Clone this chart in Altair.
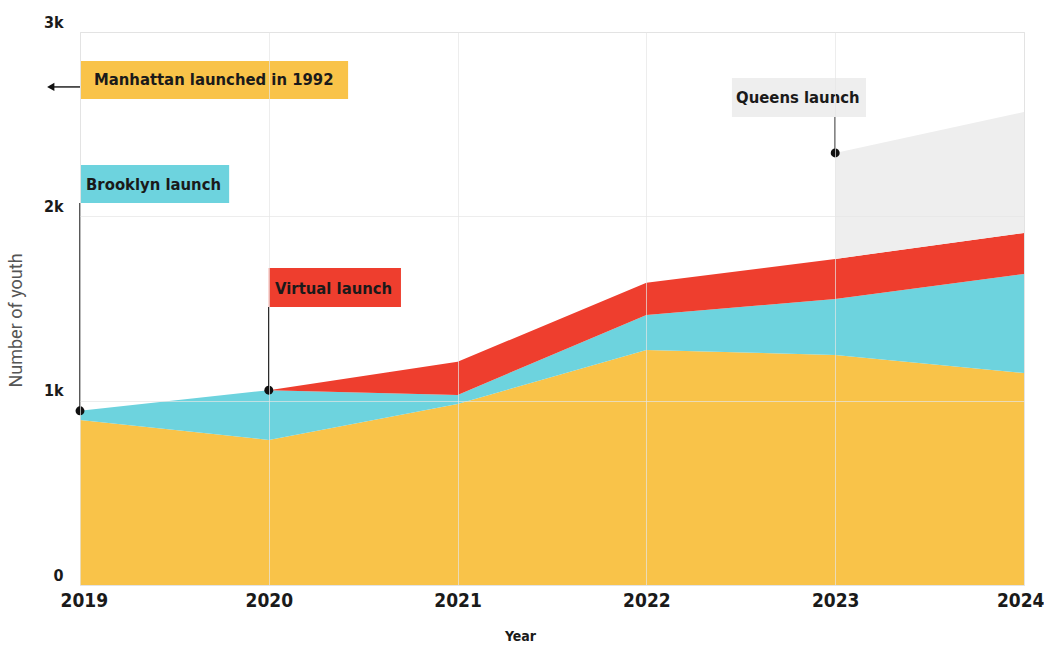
import altair as alt
import pandas as pd

years = [2019, 2020, 2021, 2022, 2023, 2024]
manhattan = [895, 787, 982, 1275, 1248, 1150]
brooklyn = [50, 270, 49, 190, 304, 537]
virtual = [None, 0, 180, 175, 217, 223]
queens = [None, None, None, None, 575, 656]

series_names = ["Manhattan", "Brooklyn", "Virtual", "Queens"]
series_values = [manhattan, brooklyn, virtual, queens]
series_colors = ["#F9C349", "#6DD3DE", "#EE3E2E", "#EEEEEE"]

y_ticks = [0, 1000, 2000, 3000]

rows = []
for order, (name, vals) in enumerate(zip(series_names, series_values)):
    for yr, v in zip(years, vals):
        if v is not None:
            rows.append({"year": yr, "series": name, "value": v, "ord": order})
df = pd.DataFrame(rows)

# annotation labels (text, series for colour)
ann_labels = ["Manhattan launched in 1992", "Brooklyn launch", "Virtual launch", "Queens launch"]
ann_series = ["Manhattan", "Brooklyn", "Virtual", "Queens"]
# box extents in data units
ann_x0 = [2019.005, 2019.005, 2020.0, 2022.453]
ann_x1 = [2020.42, 2019.79, 2020.70, 2023.163]
ann_y0 = [2637, 2073, 1508, 2539]
ann_y1 = [2843, 2279, 1720, 2751]
ann_tx = [2019.074, 2019.032, 2020.033, 2022.475]
ann_ty = [2740, 2170, 1606, 2642]
ann = pd.DataFrame({"label": ann_labels, "series": ann_series,
                    "x0": ann_x0, "x1": ann_x1, "y0": ann_y0, "y1": ann_y1,
                    "tx": ann_tx, "ty": ann_ty})

# launch markers: year where series starts, anchored at stacked top
def stack_top(series, yr):
    i = years.index(yr)
    k = series_names.index(series)
    return sum((series_values[j][i] or 0) for j in range(k + 1))

mk_series = ["Brooklyn", "Virtual", "Queens"]
mk_year = [2019, 2020, 2023]
mk_box = [2073, 1508, 2539]
markers = pd.DataFrame({"year": mk_year,
                        "top": [stack_top(s, y) for s, y in zip(mk_series, mk_year)],
                        "box": mk_box})

arrow = pd.DataFrame({"x0": [2018.85], "x1": [2019.0], "y": [2702]})
arrow_head = pd.DataFrame({"x": [2018.845], "y": [2702]})

FONT = "DejaVu Sans Condensed, sans-serif"

xscale = alt.Scale(domain=[2019, 2024], nice=False, zero=False)
yscale = alt.Scale(domain=[0, 3000], nice=False)
cscale = alt.Scale(domain=series_names, range=series_colors)

areas = alt.Chart(df).transform_stack(
    stack="value", groupby=["year"], as_=["y0", "y1"],
    sort=[alt.SortField("ord", order="ascending")]
).mark_area(interpolate="linear", stroke=None).encode(
    x=alt.X("year:Q", scale=xscale, title="Year",
            axis=alt.Axis(values=years, format="d", labelFlush=True, labelFlushOffset=20,
                          grid=True, ticks=False, tickSize=0, domain=False, labelPadding=6,
                          labelFont=FONT, labelFontSize=19, labelFontWeight="bold",
                          labelColor="#1a1a1a", titleFont=FONT, titleFontSize=14,
                          titleFontWeight="bold", titleColor="#1a1a1a",
                          titleX=440, titleY=51, titleBaseline="middle",
                          gridColor="#e6e6e6", gridOpacity=0.7, zindex=1)),
    y=alt.Y("y1:Q", scale=yscale, title="Number of youth",
            axis=alt.Axis(values=y_ticks, grid=True, ticks=False, tickSize=0,
                          domain=False, labelPadding=17, labelAlign="right",
                          labelBaseline="alphabetic", labelOffset=-5,
                          labelExpr="datum.value == 0 ? '0' : (datum.value / 1000) + 'k'",
                          labelFont=FONT, labelFontSize=16, labelFontWeight="bold",
                          labelColor="#1a1a1a", titleFont="Roboto", titleFontSize=18,
                          titleFontWeight="normal", titleColor="#555555",
                          titleX=-64, titleY=288, titleAngle=-90,
                          titleBaseline="middle", titleAlign="center",
                          gridColor="#e6e6e6", gridOpacity=0.7, zindex=1)),
    y2="y0:Q",
    color=alt.Color("series:N", scale=cscale, legend=None),
    detail="series:N",
)

boxes = alt.Chart(ann).mark_rect().encode(
    x=alt.X("x0:Q", scale=xscale), x2="x1:Q",
    y=alt.Y("y0:Q", scale=yscale), y2="y1:Q",
    color=alt.Color("series:N", scale=cscale, legend=None),
)
texts = alt.Chart(ann).mark_text(align="left", baseline="middle", font=FONT,
                                 fontSize=16.5, fontWeight="bold", color="#1a1a1a").encode(
    x=alt.X("tx:Q", scale=xscale), y=alt.Y("ty:Q", scale=yscale), text="label:N")

leaders = alt.Chart(markers).mark_rule(color="#222222", strokeWidth=1.5).encode(
    x=alt.X("year:Q", scale=xscale), y=alt.Y("top:Q", scale=yscale), y2="box:Q")
dots = alt.Chart(markers).mark_point(filled=True, color="#111111", size=80, opacity=1).encode(
    x=alt.X("year:Q", scale=xscale), y=alt.Y("top:Q", scale=yscale))

arrow_line = alt.Chart(arrow).mark_rule(color="#222222", strokeWidth=1.5).encode(
    x=alt.X("x0:Q", scale=xscale), x2="x1:Q", y=alt.Y("y:Q", scale=yscale))
arrow_tip = alt.Chart(arrow_head).mark_point(shape="triangle-left", filled=True,
                                             color="#111111", size=70, opacity=1).encode(
    x=alt.X("x:Q", scale=xscale), y=alt.Y("y:Q", scale=yscale))

chart = alt.layer(areas, boxes, texts, leaders, dots, arrow_line, arrow_tip).properties(
    width=944, height=553,
    autosize=alt.AutoSizeParams(type="none"),
    padding={"left": 80, "top": 32, "right": 20, "bottom": 60},
).configure_view(stroke=None).configure(background="white")

chart.save("out.html", embed_options={"renderer": "svg", "actions": False})
